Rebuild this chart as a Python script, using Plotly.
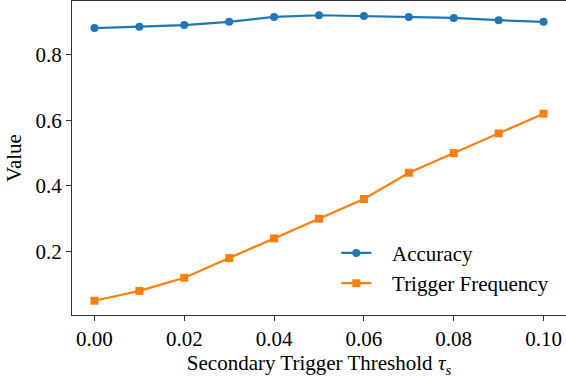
import plotly.graph_objects as go

thresholds = [0.00, 0.01, 0.02, 0.03, 0.04, 0.05, 0.06, 0.07, 0.08, 0.09, 0.10]
accuracy = [0.881, 0.885, 0.890, 0.900, 0.915, 0.920, 0.918, 0.915, 0.912, 0.905, 0.900]
trigger_freq = [0.05, 0.08, 0.12, 0.18, 0.24, 0.30, 0.36, 0.44, 0.50, 0.56, 0.62]
x_ticks = [0.00, 0.02, 0.04, 0.06, 0.08, 0.10]
y_ticks = [0.2, 0.4, 0.6, 0.8]
series_names = ["Accuracy", "Trigger Frequency"]

FONT = "Liberation Serif"
PAD = "\u00a0\u00a0\u00a0"

fig = go.Figure()
fig.add_trace(go.Scatter(x=thresholds, y=accuracy, name=PAD + series_names[0], mode="lines+markers",
                         line=dict(color="#1f77b4", width=2.2),
                         marker=dict(symbol="circle", size=8, color="#1f77b4")))
fig.add_trace(go.Scatter(x=thresholds, y=trigger_freq, name=PAD + series_names[1], mode="lines+markers",
                         line=dict(color="#ff7f0e", width=2.2),
                         marker=dict(symbol="square", size=8, color="#ff7f0e")))

fig.update_layout(
    width=566, height=381,
    margin=dict(l=72, r=0, t=1, b=66),
    paper_bgcolor="white", plot_bgcolor="white",
    font=dict(family=FONT, size=21, color="black"),
    showlegend=True,
    legend=dict(x=0.535, y=0.262, xanchor="left", yanchor="top",
                bgcolor="rgba(255,255,255,0)", font=dict(family=FONT, size=21),
                tracegroupgap=0, itemwidth=30),
    xaxis=dict(range=[-0.005, 0.105], tickvals=x_ticks, ticktext=[f"{v:.2f}" for v in x_ticks],
               automargin=False,
               showgrid=False, zeroline=False, showline=True, linecolor="#333", linewidth=1.2,
               mirror=True, ticks="outside", ticklen=5, tickcolor="#333",
               tickfont=dict(family=FONT, size=21),
               title=dict(text="Secondary Trigger Threshold <i>τ</i><sub><i>s</i></sub>", standoff=2,
                          font=dict(family=FONT, size=21))),
    yaxis=dict(range=[0.0065, 0.9635], tickvals=y_ticks, ticktext=[f"{v:.1f}" for v in y_ticks],
               automargin=False,
               showgrid=False, zeroline=False, showline=True, linecolor="#333", linewidth=1.2,
               mirror=True, ticks="outside", ticklen=5, tickcolor="#333",
               tickfont=dict(family=FONT, size=21),
               title=dict(text="Value", standoff=8, font=dict(family=FONT, size=21))),
)

fig.write_html("out.html", config={"displayModeBar": False},
               post_script="document.body.style.margin='0';document.body.style.overflow='hidden';")
